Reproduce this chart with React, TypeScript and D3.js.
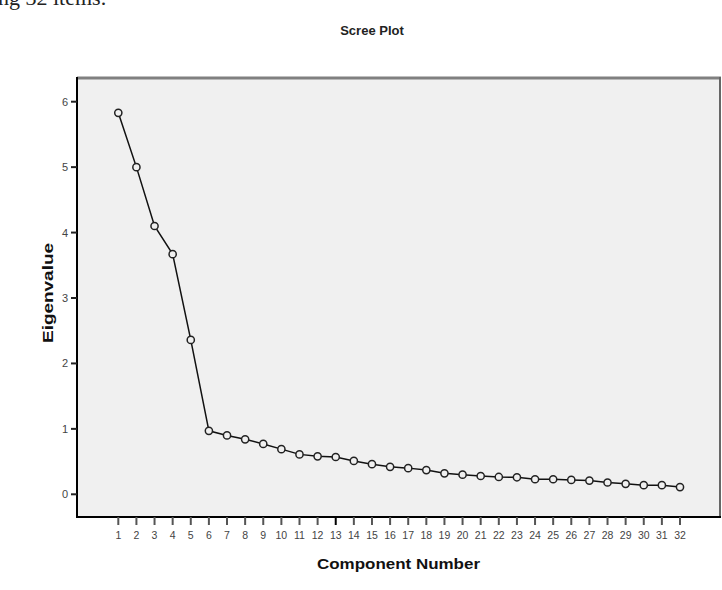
import React, { useEffect, useRef } from "react";
import * as d3 from "d3";

// eigenvalues
const components = d3.range(1, 33);
const eigenvalues = [
  5.83, 5.0, 4.1, 3.67, 2.36, 0.97, 0.9, 0.84, 0.77, 0.69, 0.61, 0.58, 0.57,
  0.51, 0.46, 0.42, 0.4, 0.37, 0.32, 0.3, 0.28, 0.265, 0.26, 0.23, 0.23, 0.22,
  0.21, 0.18, 0.16, 0.14, 0.14, 0.11,
];
const yTicks = [0, 1, 2, 3, 4, 5, 6];
const xTickLabels = components.map((c) => String(c));

const W = 722;
const H = 590;
const frame = { left: 77, right: 721, top: 77, bottom: 517 };

export default function App() {
  const ref = useRef<SVGSVGElement>(null);

  useEffect(() => {
    const svg = d3.select(ref.current);
    svg.selectAll("*").remove();

    const x = d3.scaleLinear().domain([1, 32]).range([118.3, 680]);
    const y = d3.scaleLinear().domain([0, 6]).range([494.3, 101.7]);

    // cut-off line of text from the page above the figure
    svg.append("text")
      .attr("x", -2)
      .attr("y", 5)
      .attr("font-family", "Liberation Serif, serif")
      .attr("font-size", 22)
      .attr("fill", "#222")
      .text("ng 32 items.");

    svg.append("text")
      .attr("x", 372)
      .attr("y", 35)
      .attr("text-anchor", "middle")
      .attr("font-family", "Liberation Sans, Arial, sans-serif")
      .attr("font-size", 13)
      .attr("font-weight", "bold")
      .attr("fill", "#222")
      .text("Scree Plot");

    // plot area
    svg.append("rect")
      .attr("x", frame.left)
      .attr("y", frame.top)
      .attr("width", frame.right - frame.left)
      .attr("height", frame.bottom - frame.top)
      .attr("fill", "#f0f0f0");

    svg.append("line")
      .attr("x1", frame.left).attr("x2", frame.right)
      .attr("y1", frame.top + 1).attr("y2", frame.top + 1)
      .attr("stroke", "#808080").attr("stroke-width", 3);
    svg.append("line")
      .attr("x1", frame.right - 1).attr("x2", frame.right - 1)
      .attr("y1", frame.top).attr("y2", frame.bottom)
      .attr("stroke", "#666").attr("stroke-width", 2);
    svg.append("line")
      .attr("x1", frame.left).attr("x2", frame.left)
      .attr("y1", frame.top).attr("y2", frame.bottom + 1)
      .attr("stroke", "#000").attr("stroke-width", 2);
    svg.append("line")
      .attr("x1", frame.left).attr("x2", frame.right)
      .attr("y1", frame.bottom).attr("y2", frame.bottom)
      .attr("stroke", "#000").attr("stroke-width", 2);

    // y axis ticks
    const yt = svg.append("g");
    yt.selectAll("line")
      .data(yTicks)
      .enter()
      .append("line")
      .attr("x1", frame.left - 6).attr("x2", frame.left)
      .attr("y1", (d) => y(d)).attr("y2", (d) => y(d))
      .attr("stroke", "#222").attr("stroke-width", 2);
    yt.selectAll("text")
      .data(yTicks)
      .enter()
      .append("text")
      .attr("x", frame.left - 9)
      .attr("y", (d) => y(d) + 4)
      .attr("text-anchor", "end")
      .attr("font-family", "Liberation Sans, Arial, sans-serif")
      .attr("font-size", 11)
      .attr("fill", "#444")
      .text((d) => d);

    // x axis ticks
    const xt = svg.append("g");
    xt.selectAll("line")
      .data(components)
      .enter()
      .append("line")
      .attr("x1", (d) => x(d)).attr("x2", (d) => x(d))
      .attr("y1", frame.bottom).attr("y2", frame.bottom + 8)
      .attr("stroke", (d) => (d === 13 ? "#000" : "#555"))
      .attr("stroke-width", 2);
    xt.selectAll("text")
      .data(components)
      .enter()
      .append("text")
      .attr("x", (d) => x(d))
      .attr("y", 539)
      .attr("text-anchor", "middle")
      .attr("font-family", "Liberation Sans, Arial, sans-serif")
      .attr("font-size", 10.5)
      .attr("fill", "#444")
      .text((d, i) => xTickLabels[i]);

    svg.append("text")
      .attr("x", 398.5)
      .attr("y", 569)
      .attr("text-anchor", "middle")
      .attr("font-family", "Liberation Sans, Arial, sans-serif")
      .attr("font-size", 14)
      .attr("font-weight", "bold")
      .attr("fill", "#111")
      .attr("textLength", 163)
      .attr("lengthAdjust", "spacingAndGlyphs")
      .text("Component Number");

    svg.append("text")
      .attr("transform", "translate(53,293) rotate(-90)")
      .attr("text-anchor", "middle")
      .attr("font-family", "Liberation Sans, Arial, sans-serif")
      .attr("font-size", 14)
      .attr("font-weight", "bold")
      .attr("fill", "#111")
      .attr("textLength", 100)
      .attr("lengthAdjust", "spacingAndGlyphs")
      .text("Eigenvalue");

    // scree line and markers
    const pts = components.map((c, i) => [c, eigenvalues[i]] as [number, number]);
    const line = d3.line<[number, number]>()
      .x((d) => x(d[0]))
      .y((d) => y(d[1]));

    svg.append("path")
      .datum(pts)
      .attr("d", line)
      .attr("fill", "none")
      .attr("stroke", "#111")
      .attr("stroke-width", 1.5);

    svg.append("g")
      .selectAll("circle")
      .data(pts)
      .enter()
      .append("circle")
      .attr("cx", (d) => x(d[0]))
      .attr("cy", (d) => y(d[1]))
      .attr("r", 3.6)
      .attr("fill", "#f0f0f0")
      .attr("stroke", "#222")
      .attr("stroke-width", 1.5);
  }, []);

  return (
    <svg
      ref={ref}
      width={W}
      height={H}
      style={{ position: "absolute", left: 0, top: 0, background: "#fff" }}
    />
  );
}
